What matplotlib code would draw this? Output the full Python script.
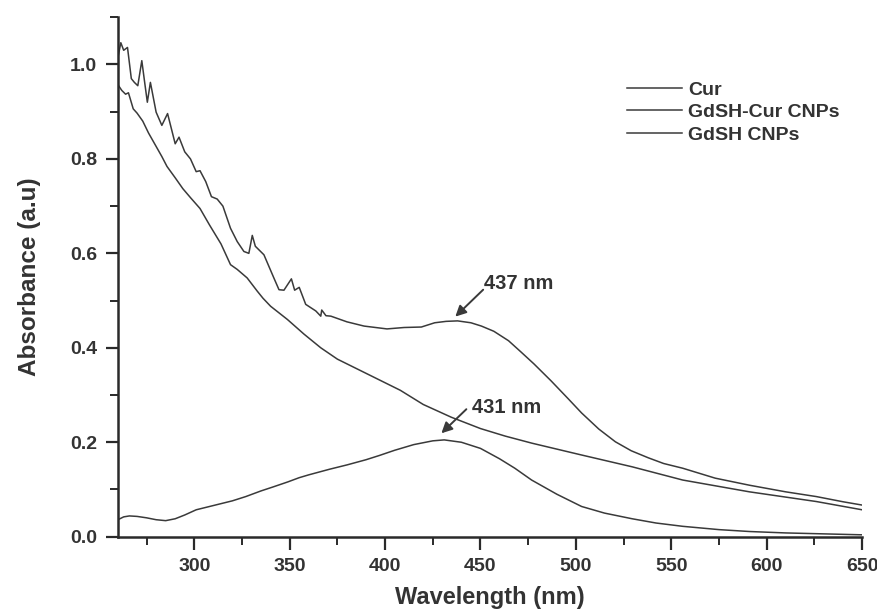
import matplotlib
matplotlib.use("Agg")
import matplotlib.pyplot as plt
from matplotlib.ticker import MultipleLocator

plt.rcParams['font.family'] = ['Liberation Sans', 'DejaVu Sans']
plt.rcParams['font.weight'] = 'bold'

# GdSH-Cur CNPs spectrum (wavelength nm, absorbance)
gdsh_cur_wl = [260, 261.5, 263, 265, 267, 268.6, 270.4, 272.5, 274, 275.4, 277, 280,
               283, 286, 288, 290, 292, 295, 298, 301, 303, 306, 309, 312, 315, 319,
               322.5, 326, 328.6, 330.4, 332, 336.5, 341.7, 344.4, 347, 350.9, 352.6,
               355, 358.4, 363.7, 366.3, 366.8, 369, 371.6, 380, 389, 401, 410, 419,
               426, 432, 438, 445, 450.5, 457, 464.7, 471, 478, 487, 496, 503, 512,
               520.7, 529, 538, 546, 556, 573, 591, 610, 626, 640, 650]
gdsh_cur_abs = [1.015, 1.046, 1.03, 1.036, 0.97, 0.962, 0.955, 1.008, 0.962, 0.92, 0.962, 0.899,
                0.871, 0.896, 0.864, 0.832, 0.846, 0.815, 0.80, 0.773, 0.775, 0.752, 0.72, 0.715, 0.70, 0.653,
                0.625, 0.604, 0.60, 0.638, 0.615, 0.597, 0.548, 0.523, 0.522, 0.546, 0.522,
                0.528, 0.492, 0.478, 0.467, 0.48, 0.468, 0.467, 0.455, 0.446, 0.440, 0.443, 0.444,
                0.453, 0.456, 0.457, 0.453, 0.446, 0.435, 0.415, 0.392, 0.366, 0.33, 0.292, 0.262, 0.228,
                0.201, 0.182, 0.167, 0.155, 0.145, 0.124, 0.109, 0.095, 0.085, 0.074, 0.067]

# GdSH CNPs spectrum
gdsh_wl = [260, 262, 264, 265.5, 268, 270, 273, 276, 279.5, 283, 285.7, 290, 294, 298,
           303, 308, 314, 319, 322.5, 327.7, 333, 336, 340, 348.8, 357.5, 366.3, 375,
           382, 395, 408, 420, 434.7, 450, 463, 477, 503, 529.5, 556, 591, 626, 650]
gdsh_abs = [0.957, 0.945, 0.937, 0.94, 0.906, 0.897, 0.88, 0.855, 0.83, 0.805, 0.784, 0.76, 0.737, 0.718,
            0.695, 0.66, 0.62, 0.576, 0.566, 0.548, 0.52, 0.505, 0.488, 0.46, 0.429, 0.40, 0.376,
            0.362, 0.336, 0.31, 0.28, 0.253, 0.229, 0.213, 0.198, 0.173, 0.148, 0.12, 0.095, 0.0745, 0.057]

# Cur spectrum
cur_wl = [260, 263, 266, 270, 275, 280, 285, 290, 295, 301, 310, 320, 327, 335, 341, 349,
          355, 360, 371, 380, 390, 397, 405, 415, 425, 431, 440, 450, 460, 468, 476.8,
          490, 503, 515, 529.5, 542, 556, 575, 591, 610, 630, 650]
cur_abs = [0.036, 0.042, 0.044, 0.043, 0.04, 0.036, 0.034, 0.038, 0.046, 0.057, 0.066, 0.076, 0.085,
           0.097, 0.105, 0.116, 0.125, 0.131, 0.143, 0.152, 0.163, 0.172, 0.183, 0.195, 0.203,
           0.205, 0.2, 0.187, 0.165, 0.145, 0.12, 0.09, 0.064, 0.05, 0.038, 0.029, 0.022,
           0.015, 0.011, 0.008, 0.006, 0.004]

series_labels = ["Cur", "GdSH-Cur CNPs", "GdSH CNPs"]

# peak markers: label, arrow head (wl, abs), arrow tail (wl, abs), text anchor (wl, abs)
peak_labels = ["437 nm", "431 nm"]
peak_heads = [(436.8, 0.466), (429.5, 0.219)]
peak_tails = [(451.4, 0.523), (442.6, 0.270)]
peak_text = [(452.0, 0.537), (445.3, 0.273)]

line_col = "#3a3a3a"
text_col = "#333333"

fig = plt.figure(figsize=(8.77, 6.15), dpi=100)
ax = fig.add_axes([0.1345, 0.1273, 0.983 - 0.1345, 0.972 - 0.1273])

l1, = ax.plot(cur_wl, cur_abs, color=line_col, lw=1.1)
l2, = ax.plot(gdsh_cur_wl, gdsh_cur_abs, color=line_col, lw=1.1)
l3, = ax.plot(gdsh_wl, gdsh_abs, color=line_col, lw=1.1)

ax.set_xlim(260, 650)
ax.set_ylim(0, 1.1)

for s in ["top", "right"]:
    ax.spines[s].set_visible(False)
for s in ["left", "bottom"]:
    ax.spines[s].set_linewidth(1.8)
    ax.spines[s].set_color("#2a2a2a")

ax.xaxis.set_major_locator(MultipleLocator(50))
ax.xaxis.set_minor_locator(MultipleLocator(25))
ax.yaxis.set_major_locator(MultipleLocator(0.2))
ax.yaxis.set_minor_locator(MultipleLocator(0.1))
ax.set_xticks([300, 350, 400, 450, 500, 550, 600, 650])
ax.set_yticks([0.0, 0.2, 0.4, 0.6, 0.8, 1.0])
ax.set_yticklabels(["0.0", "0.2", "0.4", "0.6", "0.8", "1.0"])
ax.tick_params(which="major", direction="out", length=9, width=1.6, color="#2a2a2a",
               labelsize=14, labelcolor=text_col, pad=6)
ax.tick_params(which="minor", direction="out", length=6, width=1.4, color="#2a2a2a")
for lab in ax.get_xticklabels() + ax.get_yticklabels():
    lab.set_fontweight("bold")

ax.set_xlabel("Wavelength (nm)", fontsize=17, fontweight="bold", color=text_col, labelpad=8)
ax.set_ylabel("Absorbance (a.u)", fontsize=17.5, fontweight="bold", color=text_col, labelpad=21)

for lab, head, tail, tpos in zip(peak_labels, peak_heads, peak_tails, peak_text):
    ax.annotate("", xy=head, xytext=tail,
                arrowprops=dict(arrowstyle="-|>", mutation_scale=16, lw=1.4,
                                color="#3a3a3a", shrinkA=0, shrinkB=0))
    ax.text(tpos[0], tpos[1], lab, fontsize=14.5, fontweight="bold", color=text_col,
            ha="left", va="center")

leg = ax.legend([l1, l2, l3], series_labels, loc="upper left",
                bbox_to_anchor=(627 / 877, 1 - 81 / 615), bbox_transform=fig.transFigure,
                frameon=False, fontsize=14, handlelength=2.85, handletextpad=0.3,
                labelspacing=0.26, borderpad=0, borderaxespad=0)
for t in leg.get_texts():
    t.set_fontweight("bold")
    t.set_color(text_col)

fig.savefig("out.png", dpi=100)
